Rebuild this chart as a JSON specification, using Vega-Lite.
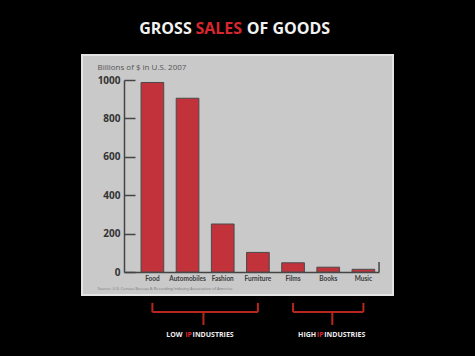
{
  "$schema": "https://vega.github.io/schema/vega-lite/v6.json",
  "width": 311,
  "height": 240,
  "autosize": {"type": "none"},
  "padding": {"left": 82, "top": 55, "right": 82, "bottom": 61},
  "background": "#000000",
  "config": {
    "view": {"fill": "#c9c9c9", "stroke": "#e4e4e4", "strokeWidth": 2},
    "font": "Open Sans"
  },
  "datasets": {
    "sales": [
      {"industry": "Food", "sales": 987},
      {"industry": "Automobiles", "sales": 905},
      {"industry": "Fashion", "sales": 250},
      {"industry": "Furniture", "sales": 102},
      {"industry": "Films", "sales": 48},
      {"industry": "Books", "sales": 25},
      {"industry": "Music", "sales": 14}
    ],
    "brackets": [
      {"group": "Low IP", "from": "Food", "to": "Furniture"},
      {"group": "High IP", "from": "Films", "to": "Music"}
    ],
    "one": [{}]
  },
  "layer": [
    {
      "data": {"name": "sales"},
      "mark": {"type": "bar", "color": "#c1323b", "stroke": "#4a4a4a", "strokeWidth": 1},
      "encoding": {
        "x": {
          "field": "industry", "type": "nominal", "sort": null,
          "scale": {"domain": ["Food", "Automobiles", "Fashion", "Furniture", "Films", "Books", "Music"], "range": [42, 297], "paddingInner": 0.355, "paddingOuter": 0.303, "align": 0.8},
          "axis": {
            "offset": -23, "domainColor": "#444444", "domainWidth": 1.5, "ticks": false, "grid": false,
            "labelAngle": 0, "labelFont": "Lato", "labelFontSize": 6.5, "labelFontWeight": "bold", "labelColor": "#3a3a3a", "labelPadding": 3,
            "title": "Source: U.S. Census Bureau & Recording Industry Association of America",
            "titleFontSize": 4, "titleFontWeight": "normal", "titleColor": "#7a7a7a",
            "titleAlign": "left", "titleBaseline": "middle", "titleX": 15, "titleY": 16
          }
        },
        "y": {
          "field": "sales", "type": "quantitative",
          "scale": {"domain": [0, 1000], "range": [217, 25], "nice": false},
          "axis": {
            "offset": -42, "values": [0, 200, 400, 600, 800, 1000], "format": "d", "grid": false,
            "domainColor": "#444444", "domainWidth": 1.5,
            "tickColor": "#444444", "tickWidth": 1.5, "tickSize": -11,
            "labelFontSize": 10, "labelFontWeight": "bold", "labelColor": "#333333", "labelPadding": 15,
            "title": "Billions of $ in U.S. 2007", "titleAngle": 0, "titleAlign": "left", "titleBaseline": "middle",
            "titleX": -27, "titleY": 12, "titleFontSize": 8, "titleFontWeight": "normal", "titleColor": "#555555"
          }
        }
      }
    },
    {
      "data": {"name": "one"},
      "mark": {"type": "rule", "color": "#444444", "strokeWidth": 1.5},
      "encoding": {
        "x": {"datum": "Music", "bandPosition": 1.19},
        "y": {"datum": 0},
        "y2": {"datum": 52}
      }
    },
    {
      "data": {"name": "brackets"},
      "mark": {"type": "rule", "color": "#b8261f", "strokeWidth": 2},
      "encoding": {
        "x": {"field": "from", "type": "nominal"},
        "x2": {"field": "to"},
        "y": {"datum": -208}
      }
    },
    {
      "data": {"name": "brackets"},
      "mark": {"type": "rule", "color": "#b8261f", "strokeWidth": 2},
      "encoding": {
        "x": {"field": "from", "type": "nominal"},
        "y": {"datum": -161},
        "y2": {"datum": -208}
      }
    },
    {
      "data": {"name": "brackets"},
      "mark": {"type": "rule", "color": "#b8261f", "strokeWidth": 2},
      "encoding": {
        "x": {"field": "to", "type": "nominal"},
        "y": {"datum": -161},
        "y2": {"datum": -208}
      }
    },
    {
      "data": {"name": "one"},
      "mark": {"type": "rule", "color": "#b8261f", "strokeWidth": 2},
      "encoding": {
        "x": {"datum": "Fashion", "bandPosition": -0.35},
        "y": {"datum": -208},
        "y2": {"datum": -276}
      }
    },
    {
      "data": {"name": "one"},
      "mark": {"type": "rule", "color": "#b8261f", "strokeWidth": 2},
      "encoding": {
        "x": {"datum": "Books", "bandPosition": 0.68},
        "y": {"datum": -208},
        "y2": {"datum": -276}
      }
    },
    {
      "data": {"name": "one"},
      "mark": {"type": "text", "text": "GROSS", "align": "right", "baseline": "middle", "dx": -31, "fontSize": 16, "fontWeight": "bold", "color": "#f2f2f2"},
      "encoding": {"x": {"datum": "Fashion"}, "y": {"datum": 1266}}
    },
    {
      "data": {"name": "one"},
      "mark": {"type": "text", "text": "SALES", "align": "center", "baseline": "middle", "dx": -4, "fontSize": 16, "fontWeight": "bold", "color": "#d7262e"},
      "encoding": {"x": {"datum": "Fashion"}, "y": {"datum": 1266}}
    },
    {
      "data": {"name": "one"},
      "mark": {"type": "text", "text": "OF GOODS", "align": "left", "baseline": "middle", "dx": 24, "fontSize": 16, "fontWeight": "bold", "color": "#f2f2f2"},
      "encoding": {"x": {"datum": "Fashion"}, "y": {"datum": 1266}}
    },
    {
      "data": {"name": "one"},
      "mark": {"type": "text", "text": "LOW", "align": "right", "baseline": "middle", "dx": -5, "fontSize": 7, "fontWeight": "bold", "color": "#eeeeee"},
      "encoding": {"x": {"datum": "Automobiles"}, "y": {"datum": -328}}
    },
    {
      "data": {"name": "one"},
      "mark": {"type": "text", "text": "IP", "align": "center", "baseline": "middle", "dx": 1, "fontSize": 7, "fontWeight": "bold", "color": "#d7262e"},
      "encoding": {"x": {"datum": "Automobiles"}, "y": {"datum": -328}}
    },
    {
      "data": {"name": "one"},
      "mark": {"type": "text", "text": "INDUSTRIES", "align": "left", "baseline": "middle", "dx": 5, "fontSize": 7, "fontWeight": "bold", "color": "#eeeeee"},
      "encoding": {"x": {"datum": "Automobiles"}, "y": {"datum": -328}}
    },
    {
      "data": {"name": "one"},
      "mark": {"type": "text", "text": "HIGH", "align": "right", "baseline": "middle", "dx": -12, "fontSize": 7, "fontWeight": "bold", "color": "#eeeeee"},
      "encoding": {"x": {"datum": "Books"}, "y": {"datum": -328}}
    },
    {
      "data": {"name": "one"},
      "mark": {"type": "text", "text": "IP", "align": "center", "baseline": "middle", "dx": -8, "fontSize": 7, "fontWeight": "bold", "color": "#d7262e"},
      "encoding": {"x": {"datum": "Books"}, "y": {"datum": -328}}
    },
    {
      "data": {"name": "one"},
      "mark": {"type": "text", "text": "INDUSTRIES", "align": "left", "baseline": "middle", "dx": -4, "fontSize": 7, "fontWeight": "bold", "color": "#eeeeee"},
      "encoding": {"x": {"datum": "Books"}, "y": {"datum": -328}}
    }
  ]
}
